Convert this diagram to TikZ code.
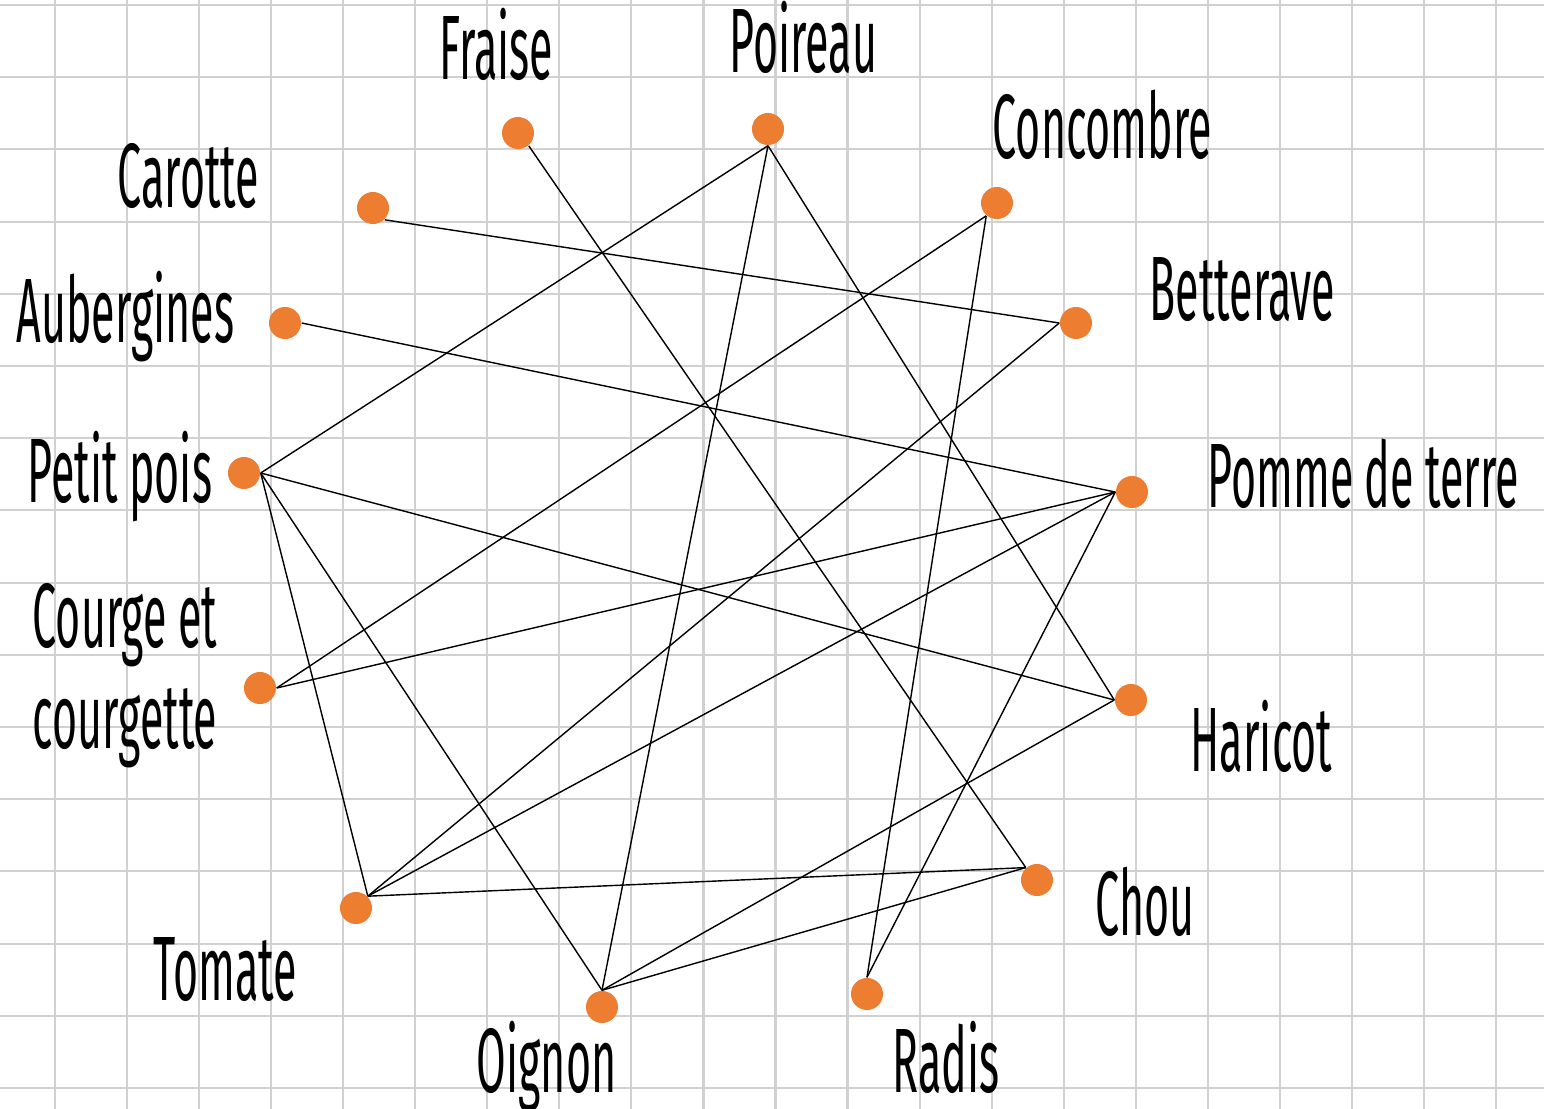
\documentclass[tikz,border=0pt]{standalone}
\usepackage{fontspec}
\newfontfamily\handfont[FakeStretch=0.47]{Fira Sans}
\usepackage{xcolor}
\definecolor{veg-orange}{HTML}{ED7D31}
\colorlet{grid-grey}{black!18}

\begin{document}
\begin{tikzpicture}[x=0.01cm, y=-0.01cm,
    dot/.style={circle, fill=veg-orange, minimum size=3.2mm, inner sep=0pt},
    veg/.style={anchor=base west, inner sep=0pt, align=left,
        font=\handfont\fontsize{26}{28.5}\selectfont}]
    \useasboundingbox (0, 0) rectangle (1544, 1109);
    \fill[white] (0, 0) rectangle (1544, 1109);
    \foreach \i in {-1, ..., 20}
        \draw[grid-grey, line width=0.6pt] (55 + 72.05*\i, 0) -- (55 + 72.05*\i, 1109);
    \foreach \j in {0, ..., 15}
        \draw[grid-grey, line width=0.6pt] (0, 5 + 72.2*\j) -- (1544, 5 + 72.2*\j);

    \node[dot] (fraise) at (518, 133) {};
    \node[dot] (poireau) at (768, 129) {};
    \node[dot] (concombre) at (997, 203) {};
    \node[dot] (carotte) at (373, 208) {};
    \node[dot] (betterave) at (1076, 323) {};
    \node[dot] (aubergines) at (285, 323) {};
    \node[dot] (petitpois) at (244, 473) {};
    \node[dot] (pomme) at (1132, 492) {};
    \node[dot] (courge) at (260, 688) {};
    \node[dot] (haricot) at (1131, 700) {};
    \node[dot] (chou) at (1037, 880) {};
    \node[dot] (tomate) at (356, 908) {};
    \node[dot] (radis) at (867, 994) {};
    \node[dot] (oignon) at (602, 1007) {};

    \node[veg] (l-fraise) at (439, 80) {Fraise};
    \node[veg] (l-poireau) at (729, 73) {Poireau};
    \node[veg] (l-concombre) at (992, 159) {Concombre};
    \node[veg] (l-carotte) at (117, 207) {Carotte};
    \node[veg] (l-betterave) at (1149, 320) {Betterave};
    \node[veg] (l-aubergines) at (16, 342) {Aubergines};
    \node[veg] (l-petitpois) at (27, 502) {Petit pois};
    \node[veg] (l-pomme) at (1207, 507) {Pomme de terre};
    \node[veg] (l-courge) at (32, 748) {Courge et\\courgette};
    \node[veg] (l-haricot) at (1190, 771) {Haricot};
    \node[veg] (l-chou) at (1095, 935) {Chou};
    \node[veg] (l-tomate) at (153, 1000) {Tomate};
    \node[veg] (l-oignon) at (476, 1092) {Oignon};
    \node[veg] (l-radis) at (892, 1092) {Radis};

    \draw[thin] (fraise.-50) -- (chou.132);
    \draw[thin] (poireau.south) -- (petitpois.east);
    \draw[thin] (poireau.south) -- (oignon.north);
    \draw[thin] (poireau.south) -- (haricot.west);
    \draw[thin] (concombre.-130) -- (courge.east);
    \draw[thin] (concombre.-130) -- (radis.north);
    \draw[thin] (carotte.-45) -- (betterave.west);
    \draw[thin] (aubergines.east) -- (pomme.west);
    \draw[thin] (betterave.west) -- (tomate.45);
    \draw[thin] (petitpois.east) -- (haricot.west);
    \draw[thin] (petitpois.east) -- (tomate.45);
    \draw[thin] (petitpois.east) -- (oignon.north);
    \draw[thin] (pomme.west) -- (courge.east);
    \draw[thin] (pomme.west) -- (tomate.45);
    \draw[thin] (pomme.west) -- (radis.north);
    \draw[thin] (haricot.west) -- (oignon.north);
    \draw[thin] (chou.132) -- (tomate.45);
    \draw[thin] (chou.132) -- (oignon.north);
\end{tikzpicture}
\end{document}
